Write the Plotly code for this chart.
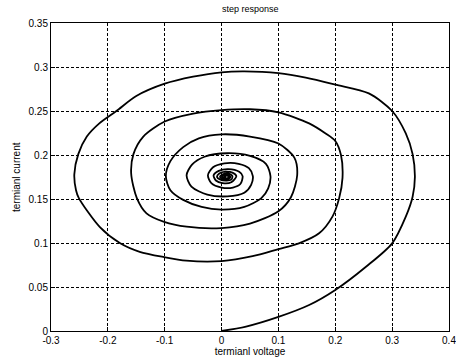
import plotly.graph_objects as go

# Phase trajectory (terminal voltage, terminal current)
voltage = [
    0.000, 0.043, 0.100, 0.154, 0.200, 0.254, 0.300, 0.324, 0.336, 0.340, 0.336, 0.324, 0.300, 0.259,
    0.200, 0.148, 0.100, 0.040, 0.000, -0.050, -0.100, -0.150, -0.185, -0.215, -0.237, -0.252, -0.259,
    -0.256, -0.251, -0.214, -0.179, -0.144, -0.101, -0.062, 0.000, 0.0545, 0.100, 0.136, 0.1715, 0.195,
    0.2067, 0.2127, 0.210, 0.200, 0.183, 0.154, 0.100, 0.050, 0.000, -0.050, -0.100, -0.138, -0.155,
    -0.159, -0.149, -0.132, -0.101, -0.0615, 0.000, 0.050, 0.100, 0.122, 0.133, 0.128, 0.100, 0.050,
    0.000, -0.040, -0.0675, -0.090, -0.098, -0.090, -0.0675, -0.035, 0.000, 0.040, 0.070, 0.082, 0.086,
    0.078, 0.050, 0.010, -0.030, -0.052, -0.0615, -0.053, -0.025, 0.010, 0.040, 0.052, 0.055, 0.048,
    0.030, 0.005, -0.015, -0.024, -0.018, 0.000, 0.020, 0.033, 0.037, 0.031, 0.012, -0.005, -0.014,
    -0.010, 0.002, 0.017, 0.026, 0.019, 0.007, -0.004, -0.008, -0.002, 0.009, 0.017, 0.019, 0.012,
    0.002, -0.003, 0.002, 0.010, 0.015, 0.015, 0.009, 0.002, 0.001, 0.006, 0.012, 0.012, 0.008, 0.004,
    0.006, 0.008,
]
current = [
    0.000, 0.005, 0.016, 0.0295, 0.0466, 0.073, 0.0996, 0.130, 0.1526, 0.175, 0.201, 0.2245, 0.250, 0.270,
    0.280, 0.288, 0.293, 0.295, 0.294, 0.289, 0.281, 0.267, 0.250, 0.236, 0.221, 0.201, 0.178,
    0.160, 0.151, 0.118, 0.100, 0.090, 0.084, 0.080, 0.0795, 0.085, 0.093, 0.0996, 0.111, 0.130,
    0.1507, 0.174, 0.200, 0.216, 0.2245, 0.236, 0.2485, 0.252, 0.251, 0.247, 0.238, 0.2207, 0.201,
    0.179, 0.151, 0.1337, 0.124, 0.1185, 0.117, 0.122, 0.136, 0.152, 0.177, 0.197, 0.213, 0.221,
    0.2235, 0.219, 0.209, 0.193, 0.176, 0.160, 0.149, 0.141, 0.138, 0.141, 0.151, 0.162, 0.176,
    0.190, 0.199, 0.202, 0.198, 0.189, 0.177, 0.164, 0.155, 0.153, 0.157, 0.166, 0.176, 0.185,
    0.190, 0.1905, 0.186, 0.177, 0.168, 0.163, 0.163, 0.167, 0.176, 0.181, 0.184, 0.182, 0.177,
    0.171, 0.168, 0.169, 0.176, 0.180, 0.181, 0.179, 0.175, 0.172, 0.171, 0.172, 0.176, 0.179,
    0.178, 0.175, 0.173, 0.1725, 0.174, 0.176, 0.178, 0.177, 0.175, 0.1735, 0.1745, 0.176, 0.177,
    0.176, 0.175, 0.1757,
]

x_ticks = [-0.3, -0.2, -0.1, 0.0, 0.1, 0.2, 0.3, 0.4]
x_tick_text = ["-0.3", "-0.2", "-0.1", "0", "0.1", "0.2", "0.3", "0.4"]
y_ticks = [0.0, 0.05, 0.1, 0.15, 0.2, 0.25, 0.3, 0.35]
y_tick_text = ["0", "0.05", "0.1", "0.15", "0.2", "0.25", "0.3", "0.35"]

font = "Liberation Sans, Arial, sans-serif"

fig = go.Figure()
fig.add_trace(go.Scatter(
    x=voltage, y=current, mode="lines",
    line=dict(color="black", width=1.8, shape="spline", smoothing=0.8),
    hoverinfo="skip", showlegend=False,
))

axis_common = dict(
    showline=True, linecolor="black", linewidth=1, mirror=True,
    showgrid=True, gridcolor="black", gridwidth=1, griddash="3px,2px",
    zeroline=False, ticks="inside", ticklen=4, tickcolor="black",
    tickfont=dict(family=font, size=10, color="black"),
    automargin=False, ticklabeloverflow="allow",
)

fig.update_layout(
    width=456, height=362,
    margin=dict(l=51, r=7, t=23, b=31),
    paper_bgcolor="white", plot_bgcolor="white",
    title=dict(text="step response", x=0.549, xanchor="center", y=0.985, yanchor="top",
               font=dict(family=font, size=9, color="black")),
    xaxis=dict(range=[-0.3, 0.4], tickvals=x_ticks, ticktext=x_tick_text,
               title=dict(text="termianl voltage", standoff=2,
                          font=dict(family=font, size=10, color="black")),
               **axis_common),
    yaxis=dict(range=[0, 0.35], tickvals=y_ticks, ticktext=y_tick_text, **axis_common),
    annotations=[dict(
        text="termianl current", textangle=-90, showarrow=False,
        xref="paper", yref="paper", x=-0.088, y=0.5, xanchor="center", yanchor="middle",
        font=dict(family=font, size=10, color="black"),
    )],
)

fig.write_html("out.html")
